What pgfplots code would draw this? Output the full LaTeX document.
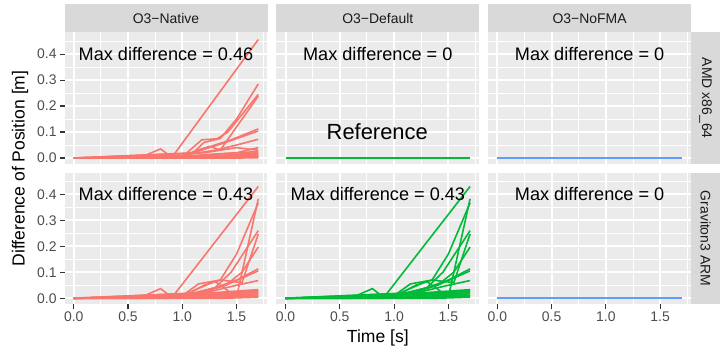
\documentclass[border=0pt]{standalone}
\usepackage{pgfplots}
\pgfplotsset{compat=1.18}
\usepackage{fontspec}
\setmainfont{Liberation Sans}
\definecolor{ggred}{HTML}{F8766D}
\definecolor{gggreen}{HTML}{00BA38}
\definecolor{ggblue}{HTML}{619CFF}
\definecolor{panelbg}{HTML}{EBEBEB}
\definecolor{stripbg}{HTML}{D9D9D9}
\definecolor{ticklab}{HTML}{4D4D4D}
\definecolor{tickc}{HTML}{333333}
\definecolor{striptext}{HTML}{1A1A1A}

\newcommand\AMDNative{%
\addplot coordinates {(0,0)(0.6,0)(0.8,0.035)(0.9,0.004)(1.2,0.012)(1.5,0.02)(1.7,0.04)};
\addplot coordinates {(0,0)(0.9,0)(1.7,0.456)};
\addplot coordinates {(0,0)(0.95,0)(1.1,0.02)(1.2,0.06)(1.35,0.075)(1.5,0.15)(1.7,0.285)};
\addplot coordinates {(0,0)(1.0,0.005)(1.18,0.07)(1.32,0.074)(1.42,0.1)(1.7,0.245)};
\addplot coordinates {(0,0)(1.0,0.01)(1.25,0.045)(1.35,0.03)(1.45,0.09)(1.7,0.238)};
\addplot coordinates {(0,0)(1.0,0.005)(1.3,0.05)(1.45,0.07)(1.7,0.112)};
\addplot coordinates {(0,0)(1.1,0.02)(1.4,0.06)(1.7,0.104)};
\addplot coordinates {(0,0)(1.0,0.01)(1.3,0.03)(1.5,0.05)(1.7,0.072)};
\addplot coordinates {(0,0)(1.2,0.02)(1.5,0.04)(1.7,0.03)};
\addplot coordinates {(0,0)(1.0,0.005)(1.3,0.015)(1.7,0.025)};
\addplot coordinates {(0,0)(1.0,0)(1.7,0.02)};
\addplot coordinates {(0,0)(0.9,0.002)(1.7,0.016)};
\addplot coordinates {(0,0)(1.1,0.003)(1.7,0.012)};
\addplot coordinates {(0,0)(1.2,0.002)(1.7,0.009)};
\addplot coordinates {(0,0)(1.3,0.001)(1.7,0.006)};
\addplot coordinates {(0,0)(1.4,0.001)(1.7,0.003)};
\addplot coordinates {(0,0)(1.5,0.000)(1.7,0.001)};
}

\newcommand\Graviton{%
\addplot coordinates {(0,0)(0.6,0)(0.8,0.037)(0.9,0.005)(1.2,0.015)(1.7,0.03)};
\addplot coordinates {(0,0)(0.9,0)(1.7,0.43)};
\addplot coordinates {(0,0)(1.0,0.01)(1.3,0.065)(1.5,0.005)(1.7,0.382)};
\addplot coordinates {(0,0)(1.0,0.005)(1.2,0.05)(1.35,0.07)(1.5,0.17)(1.7,0.367)};
\addplot coordinates {(0,0)(1.05,0.01)(1.3,0.04)(1.45,0.1)(1.7,0.26)};
\addplot coordinates {(0,0)(1.0,0.01)(1.15,0.055)(1.35,0.07)(1.55,0.06)(1.7,0.247)};
\addplot coordinates {(0,0)(1.1,0.01)(1.4,0.05)(1.55,0.1)(1.7,0.197)};
\addplot coordinates {(0,0)(1.0,0.005)(1.3,0.04)(1.5,0.07)(1.7,0.113)};
\addplot coordinates {(0,0)(1.1,0.02)(1.4,0.05)(1.7,0.105)};
\addplot coordinates {(0,0)(1.2,0.02)(1.5,0.05)(1.7,0.068)};
\addplot coordinates {(0,0)(0.6,0.002)(1.7,0.033)};
\addplot coordinates {(0,0)(0.7,0.002)(1.7,0.027)};
\addplot coordinates {(0,0)(0.8,0.001)(1.7,0.022)};
\addplot coordinates {(0,0)(0.9,0.001)(1.7,0.017)};
\addplot coordinates {(0,0)(1.0,0.001)(1.7,0.012)};
\addplot coordinates {(0,0)(1.2,0.001)(1.7,0.008)};
\addplot coordinates {(0,0)(1.4,0.0)(1.7,0.004)};
}

\newcommand\Flat{%
\addplot coordinates {(0,0)(1.7,0)};
}

\pgfplotsset{
  panel/.style={
    scale only axis, width=203bp, height=131.5bp, anchor=south west,
    xmin=-0.085, xmax=1.785, ymin=-0.023, ymax=0.483,
    axis background/.style={fill=panelbg},
    axis line style={draw=none},
    xtick={0,0.5,1,1.5}, ytick={0,0.1,0.2,0.3,0.4},
    minor xtick={0.25,0.75,1.25,1.75},
    minor ytick={0.05,0.15,0.25,0.35,0.45},
    grid=both,
    major grid style={white, line width=2bp},
    minor grid style={white, line width=1bp},
    tick pos=left, tick align=outside,
    major tick length=4.4bp, minor tick length=0pt,
    every tick/.style={color=tickc, line width=1.1bp},
    xticklabel style={font=\fontsize{14}{16}\selectfont, text=ticklab},
    yticklabel style={font=\fontsize{14}{16}\selectfont, text=ticklab},
    /pgf/number format/.cd, fixed, fixed zerofill, precision=1, assume math mode=true, /pgfplots/.cd,
  },
  noxlab/.style={xticklabels={}, xtick style={draw=none}},
  noylab/.style={yticklabels={}, ytick style={draw=none}},
  redlines/.style={cycle list={ggred,line width=1.6bp,mark=none\\}},
  greenlines/.style={cycle list={gggreen,line width=1.6bp,mark=none\\}},
  bluelines/.style={cycle list={ggblue,line width=1.6bp,mark=none\\}},
}

\begin{document}
\begin{tikzpicture}
\path[use as bounding box] (0,0) rectangle (720bp,354bp);

% Row 1 (AMD)
\begin{axis}[panel, noxlab, redlines, at={(64.5bp,190bp)}]
\AMDNative
\node[font=\fontsize{18.2}{20}\selectfont] at (axis cs:0.85,0.4) {Max difference = 0.46};
\end{axis}
\begin{axis}[panel, noxlab, noylab, greenlines, at={(276.3bp,190bp)}]
\Flat
\node[font=\fontsize{18.2}{20}\selectfont] at (axis cs:0.85,0.4) {Max difference = 0};
\node[font=\fontsize{22}{24}\selectfont] at (axis cs:0.845,0.1) {Reference};
\end{axis}
\begin{axis}[panel, noxlab, noylab, bluelines, at={(488.1bp,190bp)}]
\Flat
\node[font=\fontsize{18.2}{20}\selectfont] at (axis cs:0.85,0.4) {Max difference = 0};
\end{axis}

% Row 2 (Graviton)
\begin{axis}[panel, redlines, at={(64.5bp,49.8bp)}]
\Graviton
\node[font=\fontsize{18.2}{20}\selectfont] at (axis cs:0.85,0.4) {Max difference = 0.43};
\end{axis}
\begin{axis}[panel, noylab, greenlines, at={(276.3bp,49.8bp)}]
\Graviton
\node[font=\fontsize{18.2}{20}\selectfont] at (axis cs:0.85,0.4) {Max difference = 0.43};
\end{axis}
\begin{axis}[panel, noylab, bluelines, at={(488.1bp,49.8bp)}]
\Flat
\node[font=\fontsize{18.2}{20}\selectfont] at (axis cs:0.85,0.4) {Max difference = 0};
\end{axis}

% strips
\fill[stripbg] (64.5bp,321.5bp) rectangle (267.5bp,350bp);
\fill[stripbg] (276.3bp,321.5bp) rectangle (479.3bp,350bp);
\fill[stripbg] (488.1bp,321.5bp) rectangle (691.1bp,350bp);
\node[font=\fontsize{14}{16}\selectfont, text=striptext] at (166bp,335.75bp) {O3−Native};
\node[font=\fontsize{14}{16}\selectfont, text=striptext] at (377.8bp,335.75bp) {O3−Default};
\node[font=\fontsize{14}{16}\selectfont, text=striptext] at (589.6bp,335.75bp) {O3−NoFMA};
\fill[stripbg] (691.1bp,190bp) rectangle (720bp,321.5bp);
\fill[stripbg] (691.1bp,49.8bp) rectangle (720bp,181.3bp);
\node[font=\fontsize{14}{16}\selectfont, text=striptext, rotate=-90] at (705.5bp,255.75bp) {AMD x86\_64};
\node[font=\fontsize{14}{16}\selectfont, text=striptext, rotate=-90] at (705.5bp,115.55bp) {Graviton3 ARM};

% axis titles
\node[font=\fontsize{17.6}{20}\selectfont] at (377.8bp,16bp) {Time [s]};
\node[font=\fontsize{17.6}{20}\selectfont, rotate=90] at (20bp,185.6bp) {Difference of Position [m]};
\end{tikzpicture}
\end{document}
